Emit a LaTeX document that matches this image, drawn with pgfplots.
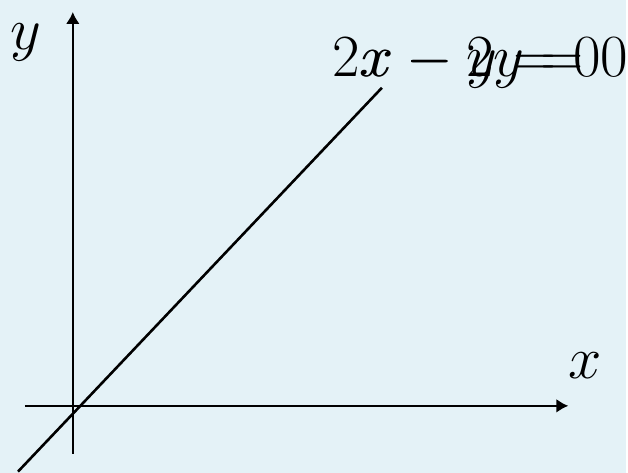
\RequirePackage{fix-cm}
\documentclass[border=0pt]{standalone}
\usepackage{pgfplots}
\pgfplotsset{compat=1.18}
\usetikzlibrary{arrows.meta}
\definecolor{bg}{RGB}{228,242,247}
\newcommand{\bigfont}{\fontsize{60}{60}\selectfont}
\begin{document}
\begin{tikzpicture}
\fill[bg] (0,0) rectangle (628pt,474pt);
\begin{axis}[
  at={(0,0)}, anchor=south west,
  scale only axis, width=628pt, height=474pt,
  xmin=0, xmax=628, ymin=0, ymax=474,
  y dir=reverse, hide axis, clip=false,
]
% axes (pixel coordinates, y downwards)
\addplot[black, line width=2.4pt, -{Latex[length=12pt,width=14pt]}] coordinates {(25,407) (570,407)};
\addplot[black, line width=2.4pt, -{Latex[length=12pt,width=14pt]}] coordinates {(73,455) (73,12)};
% the line
\addplot[black, line width=2.6pt] coordinates {(18,473) (383,88)};
% labels
\node[anchor=base west, inner sep=0pt] at (axis cs:10,50) {\bigfont$y$};
\node[anchor=base west, inner sep=0pt] at (axis cs:570,380) {\bigfont$x$};
\node[anchor=base west, inner sep=0pt] at (axis cs:333,77) {\bigfont$2x-2y=0$};
\node[anchor=base west, inner sep=0pt] at (axis cs:361,77) {\bigfont$x-y=0$};
\end{axis}
\end{tikzpicture}
\end{document}
